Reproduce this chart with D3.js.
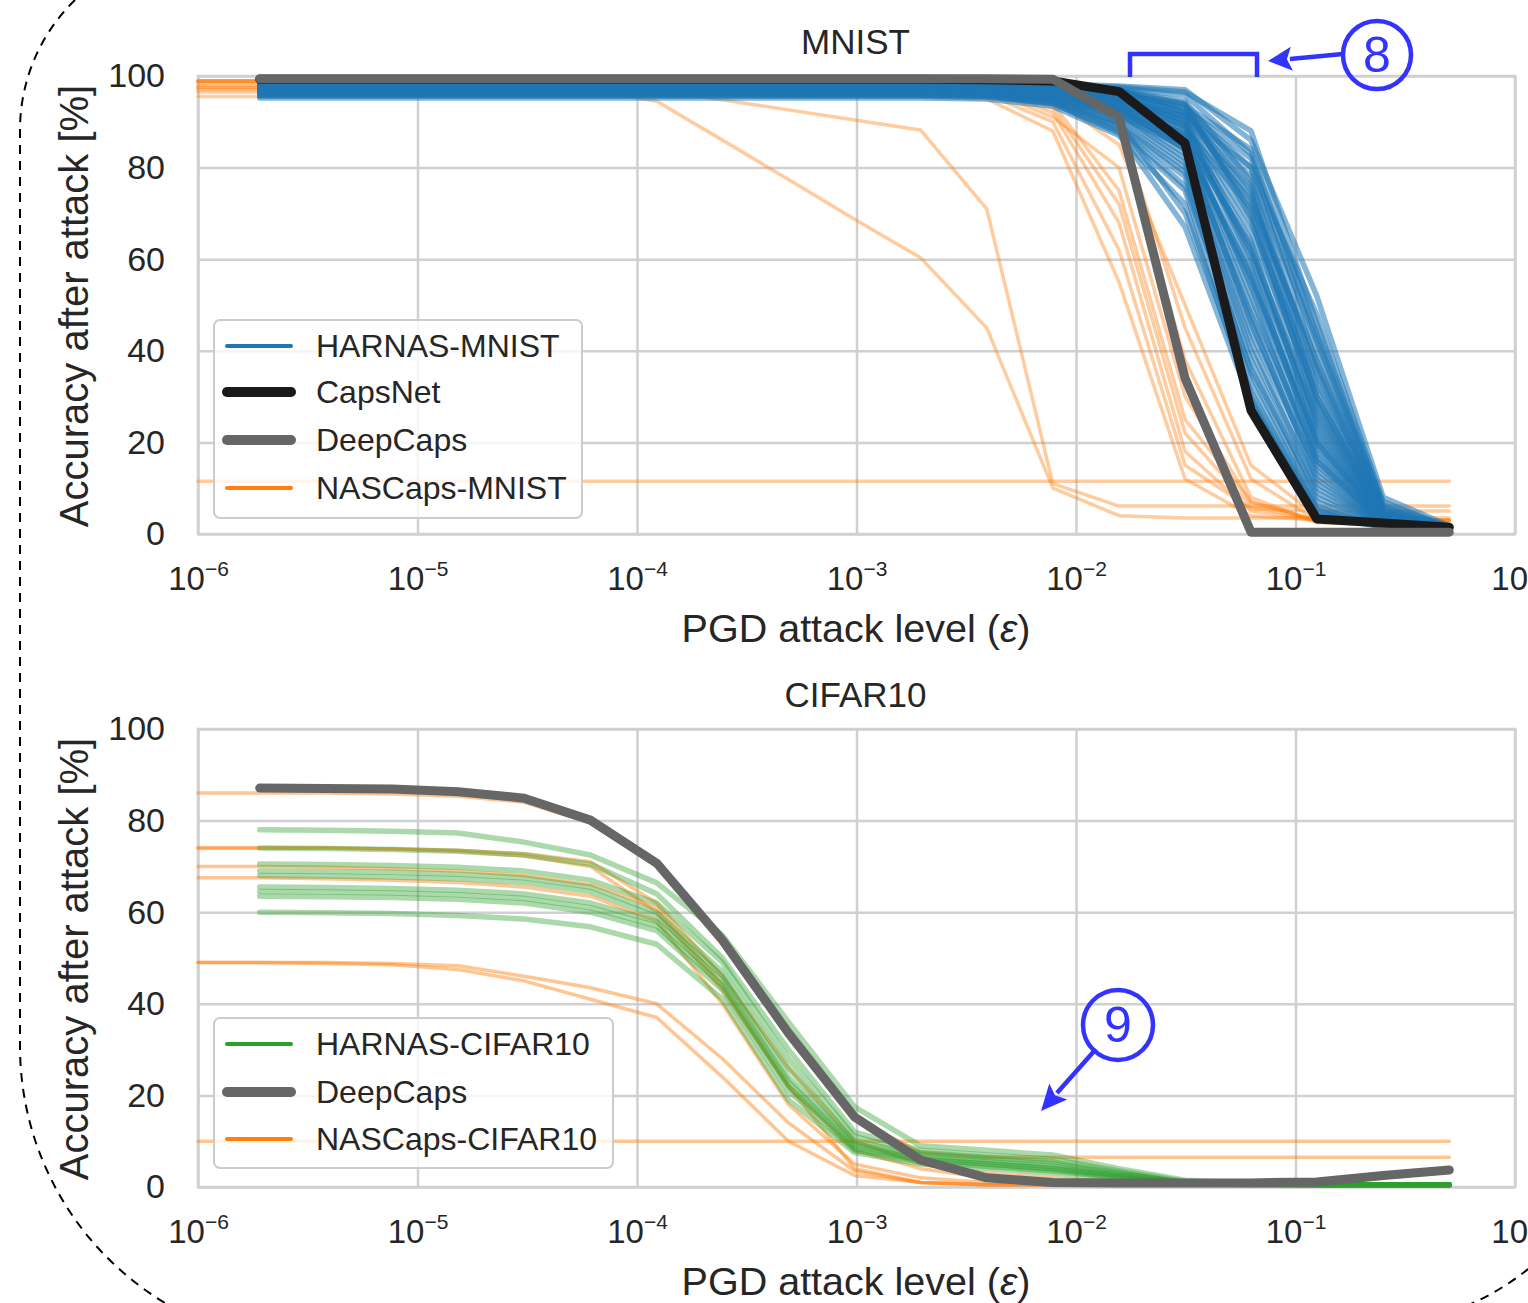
<!DOCTYPE html>
<html>
<head>
<meta charset="utf-8">
<script src="https://cdn.jsdelivr.net/npm/d3@7"></script>
<style>
  body { margin: 0; background: #fff; }
  text { font-family: "Liberation Sans", Arial, sans-serif; fill: #262626; }
</style>
</head>
<body>
<script>
// PGD epsilons (k/255 with k = 2^-11 ... 2^7)
const epsilons = [1.91e-6, 3.83e-6, 7.66e-6, 1.53e-5, 3.06e-5, 6.13e-5, 1.23e-4, 2.45e-4, 4.90e-4, 9.80e-4,
  1.96e-3, 3.92e-3, 7.84e-3, 1.57e-2, 3.14e-2, 6.27e-2, 1.25e-1, 2.51e-1, 5.02e-1];
// NASCaps runs have one extra point at 1e-6
const nasEpsilons = [1.0e-6, 1.91e-6, 3.83e-6, 7.66e-6, 1.53e-5, 3.06e-5, 6.13e-5, 1.23e-4, 2.45e-4, 4.90e-4, 9.80e-4,
  1.96e-3, 3.92e-3, 7.84e-3, 1.57e-2, 3.14e-2, 6.27e-2, 1.25e-1, 2.51e-1, 5.02e-1];

const xTicks = [1e-6, 1e-5, 1e-4, 1e-3, 1e-2, 1e-1, 1];
const xTickExp = ["\u22126", "\u22125", "\u22124", "\u22123", "\u22122", "\u22121", "0"];
const yTicks = [0, 20, 40, 60, 80, 100];

// ---------- MNIST ----------
const capsNetMnist = [99.3,99.3,99.3,99.3,99.3,99.3,99.3,99.3,99.3,99.3,99.3,99.2,98.9,96.6,85.3,27.0,3.3,2.4,1.5];
const deepCapsMnist = [99.4,99.4,99.4,99.4,99.4,99.4,99.4,99.4,99.4,99.4,99.4,99.4,99.3,91.0,34.0,0.4,0.4,0.4,0.4];

const harnasMnist = [
  [98.4,98.4,98.4,98.4,98.4,98.4,98.4,98.4,98.4,98.4,98.4,98.3,98.0,97.6,96.5,88.0,46.0,6.0,1.6],
  [98.2,98.2,98.2,98.2,98.2,98.2,98.2,98.2,98.2,98.2,98.2,98.1,97.6,96.4,93.0,82.0,40.0,5.0,1.3],
  [98.0,98.0,98.0,98.0,98.0,98.0,98.0,98.0,98.0,98.0,98.0,97.8,97.2,95.4,91.0,76.0,35.0,4.2,1.1],
  [98.3,98.3,98.3,98.3,98.3,98.3,98.3,98.3,98.3,98.3,98.3,98.2,97.8,96.8,94.0,70.0,28.0,3.6,1.1],
  [97.6,97.6,97.6,97.6,97.6,97.6,97.6,97.6,97.6,97.6,97.6,97.4,96.6,94.0,88.0,64.0,22.0,3.0,1.0],
  [98.1,98.1,98.1,98.1,98.1,98.1,98.1,98.1,98.1,98.1,98.1,97.9,97.3,95.6,90.0,58.0,18.0,2.6,1.0],
  [97.7,97.7,97.7,97.7,97.7,97.7,97.7,97.7,97.7,97.7,97.7,97.5,96.8,94.4,87.0,52.0,15.0,2.3,1.0],
  [97.2,97.2,97.2,97.2,97.2,97.2,97.2,97.2,97.2,97.2,97.2,97.0,96.2,93.0,84.0,47.0,12.0,2.0,0.9],
  [98.5,98.5,98.5,98.5,98.5,98.5,98.5,98.5,98.5,98.5,98.5,98.4,98.1,97.0,92.0,72.0,38.0,5.0,1.3],
  [98.0,98.0,98.0,98.0,98.0,98.0,98.0,98.0,98.0,98.0,98.0,97.8,97.1,95.0,89.0,60.0,25.0,3.5,1.1],
  [97.5,97.5,97.5,97.5,97.5,97.5,97.5,97.5,97.5,97.5,97.5,97.3,96.4,93.5,86.0,55.0,20.0,3.0,1.0],
  [96.9,96.9,96.9,96.9,96.9,96.9,96.9,96.9,96.9,96.9,96.9,96.7,95.6,91.5,82.0,42.0,10.0,2.0,0.9],
  [96.4,96.4,96.4,96.4,96.4,96.4,96.4,96.4,96.4,96.4,96.4,96.2,95.0,90.0,80.0,38.0,8.0,1.8,0.9],
  [98.6,98.6,98.6,98.6,98.6,98.6,98.6,98.6,98.6,98.6,98.6,98.5,98.3,97.8,97.0,86.0,52.0,8.0,1.8],
  [97.9,97.9,97.9,97.9,97.9,97.9,97.9,97.9,97.9,97.9,97.9,97.7,97.0,94.8,89.0,66.0,30.0,4.0,1.2],
  [97.4,97.4,97.4,97.4,97.4,97.4,97.4,97.4,97.4,97.4,97.4,97.2,96.2,92.5,85.0,50.0,17.0,2.5,1.0],
  [96.0,96.0,96.0,96.0,96.0,96.0,96.0,96.0,96.0,96.0,96.0,95.8,94.5,89.0,78.0,33.0,6.0,1.5,0.9],
  [98.2,98.2,98.2,98.2,98.2,98.2,98.2,98.2,98.2,98.2,98.2,98.0,97.5,96.0,92.0,78.0,42.0,5.5,1.4],
  [97.0,97.0,97.0,97.0,97.0,97.0,97.0,97.0,97.0,97.0,97.0,96.8,95.8,92.0,83.0,44.0,14.0,2.2,1.0],
  [95.6,95.6,95.6,95.6,95.6,95.6,95.6,95.6,95.6,95.6,95.6,95.4,94.0,88.0,75.0,30.0,5.0,1.5,0.9],
  [97.8,97.8,97.8,97.8,97.8,97.8,97.8,97.8,97.8,97.8,97.8,97.6,97.0,95.2,90.0,68.0,33.0,4.5,1.2],
  [97.6,97.6,97.6,97.6,97.6,97.6,97.6,97.6,97.6,97.6,97.6,97.4,96.6,94.0,87.0,62.0,26.0,3.5,1.1],
  [95.2,95.2,95.2,95.2,95.2,95.2,95.2,95.2,95.2,95.2,95.2,95.0,93.4,87.0,72.0,29.0,4.0,1.5,0.9],
  [98.4,98.4,98.4,98.4,98.4,98.4,98.4,98.4,98.4,98.4,98.4,98.3,98.0,96.5,93.0,80.0,48.0,7.0,1.5],
  [96.7,96.7,96.7,96.7,96.7,96.7,96.7,96.7,96.7,96.7,96.7,96.5,95.4,91.0,81.0,40.0,11.0,2.0,1.0],
  [98.0,98.0,98.0,98.0,98.0,98.0,98.0,98.0,98.0,98.0,98.0,97.8,97.2,95.5,91.0,74.0,36.0,4.5,1.2],
  [97.3,97.3,97.3,97.3,97.3,97.3,97.3,97.3,97.3,97.3,97.3,97.1,96.3,93.2,86.0,56.0,21.0,3.0,1.0],
  [96.2,96.2,96.2,96.2,96.2,96.2,96.2,96.2,96.2,96.2,96.2,96.0,94.8,89.5,79.0,35.0,7.0,1.6,0.9],
  [98.3,98.3,98.3,98.3,98.3,98.3,98.3,98.3,98.3,98.3,98.3,98.2,97.7,96.3,92.0,75.0,30.0,4.0,1.2],
  [97.1,97.1,97.1,97.1,97.1,97.1,97.1,97.1,97.1,97.1,97.1,96.9,96.0,92.8,84.0,48.0,16.0,2.4,1.0],
  [98.1,98.1,98.1,98.1,98.1,98.1,98.1,98.1,98.1,98.1,98.1,98.0,97.6,96.0,93.5,84.0,43.0,5.5,1.3],
  [97.8,97.8,97.8,97.8,97.8,97.8,97.8,97.8,97.8,97.8,97.8,97.6,97.0,95.0,91.5,80.0,37.0,4.5,1.2],
  [98.4,98.4,98.4,98.4,98.4,98.4,98.4,98.4,98.4,98.4,98.4,98.3,97.9,96.9,94.5,77.0,32.0,4.0,1.1],
  [97.5,97.5,97.5,97.5,97.5,97.5,97.5,97.5,97.5,97.5,97.5,97.3,96.5,93.8,88.5,71.0,27.0,3.5,1.0],
  [97.0,97.0,97.0,97.0,97.0,97.0,97.0,97.0,97.0,97.0,97.0,96.8,95.9,92.6,86.5,63.0,23.0,3.0,1.0],
  [96.6,96.6,96.6,96.6,96.6,96.6,96.6,96.6,96.6,96.6,96.6,96.4,95.2,91.2,84.5,57.0,19.0,2.6,1.0],
  [98.2,98.2,98.2,98.2,98.2,98.2,98.2,98.2,98.2,98.2,98.2,98.1,97.7,96.6,93.8,69.0,24.0,3.2,1.0],
  [97.9,97.9,97.9,97.9,97.9,97.9,97.9,97.9,97.9,97.9,97.9,97.7,97.1,95.3,90.5,61.0,20.0,2.8,1.0],
  [97.3,97.3,97.3,97.3,97.3,97.3,97.3,97.3,97.3,97.3,97.3,97.1,96.1,92.9,87.5,54.0,16.0,2.4,1.0],
  [96.8,96.8,96.8,96.8,96.8,96.8,96.8,96.8,96.8,96.8,96.8,96.6,95.5,91.8,85.5,46.0,13.0,2.1,0.9],
  [95.9,95.9,95.9,95.9,95.9,95.9,95.9,95.9,95.9,95.9,95.9,95.7,94.2,88.5,76.0,36.0,9.0,1.8,0.9],
  [96.3,96.3,96.3,96.3,96.3,96.3,96.3,96.3,96.3,96.3,96.3,96.1,94.7,89.8,70.0,31.0,5.5,1.6,0.9],
  [98.6,98.6,98.6,98.6,98.6,98.6,98.6,98.6,98.6,98.6,98.6,98.5,98.2,97.4,95.8,83.0,44.0,6.5,1.5],
  [97.7,97.7,97.7,97.7,97.7,97.7,97.7,97.7,97.7,97.7,97.7,97.5,96.9,94.6,89.5,73.0,29.0,3.8,1.1],
  [95.8,95.8,95.8,95.8,95.8,95.8,95.8,95.8,95.8,95.8,95.8,95.6,94.0,87.5,67.0,28.5,4.5,1.5,0.9]
];

const nasCapsMnist = [
  [11.5,11.5,11.5,11.5,11.5,11.5,11.5,11.5,11.5,11.5,11.5,11.5,11.5,11.5,11.5,11.5,11.5,11.5,11.5,11.5],
  [97.5,97.5,97.5,97.5,97.5,97.5,97.5,96.9,94.8,92.6,90.4,88.2,71.0,11.0,6.1,6.1,6.1,6.1,6.1,6.1],
  [97.0,97.0,97.0,97.0,97.0,97.0,97.0,94.5,86.0,77.4,68.7,60.3,45.0,10.0,4.0,3.5,3.5,3.5,3.5,3.5],
  [98.9,98.9,98.9,98.9,98.9,98.9,98.9,98.9,98.9,98.9,98.9,98.9,98.7,97.0,90.0,45.0,12.0,3.0,2.0,2.0],
  [98.9,98.9,98.9,98.9,98.9,98.9,98.9,98.9,98.9,98.9,98.9,98.9,98.6,96.0,88.0,38.0,8.0,2.5,2.0,2.0],
  [98.5,98.5,98.5,98.5,98.5,98.5,98.5,98.5,98.5,98.5,98.5,98.4,98.2,95.0,85.0,50.0,15.0,4.0,3.0,3.0],
  [98.9,98.9,98.9,98.9,98.9,98.9,98.9,98.9,98.9,98.9,98.9,98.9,98.5,93.0,72.0,22.0,6.0,3.0,2.5,2.5],
  [98.0,98.0,98.0,98.0,98.0,98.0,98.0,98.0,98.0,98.0,98.0,97.9,97.6,92.0,68.0,18.0,5.0,3.0,3.0,3.0],
  [96.5,96.5,96.5,96.5,96.5,96.5,96.5,96.5,96.5,96.5,96.5,96.4,96.0,90.0,62.0,15.0,5.5,5.0,5.0,5.0],
  [98.9,98.9,98.9,98.9,98.9,98.9,98.9,98.9,98.9,98.9,98.9,98.9,98.5,94.0,75.0,25.0,7.0,3.0,2.0,2.0],
  [95.5,95.5,95.5,95.5,95.5,95.5,95.5,95.5,95.5,95.5,95.5,95.4,95.0,88.0,55.0,12.0,4.0,3.0,3.0,3.0],
  [97.5,97.5,97.5,97.5,97.5,97.5,97.5,97.5,97.5,97.5,97.5,97.4,97.0,91.0,80.0,30.0,7.0,3.0,3.0,3.0]
];

// ---------- CIFAR10 ----------
const deepCapsCifar = [87.1,87.0,86.9,86.3,84.9,80.1,70.7,53.9,33.6,15.3,5.9,2.0,1.0,0.9,0.9,0.9,1.1,2.5,3.7];

const harnasCifar = [
  [78.0,77.9,77.7,77.3,75.3,72.5,66.4,55.0,36.0,17.5,9.0,8.0,7.0,4.0,1.5,0.8,0.6,0.5,0.5],
  [74.0,73.9,73.7,73.3,72.5,70.5,64.0,50.0,30.0,12.0,8.0,7.0,6.0,3.5,1.2,0.7,0.5,0.5,0.5],
  [70.5,70.4,70.2,69.8,69.0,67.0,62.0,49.0,28.0,11.0,7.5,6.5,5.5,3.0,1.0,0.6,0.5,0.5,0.5],
  [69.0,68.9,68.7,68.3,67.5,65.5,60.0,47.0,26.0,10.0,7.0,6.0,5.0,3.0,1.0,0.6,0.5,0.5,0.5],
  [68.0,67.9,67.7,67.3,66.5,64.5,59.0,46.0,24.0,9.5,6.5,5.5,4.5,2.5,1.0,0.6,0.5,0.5,0.5],
  [65.5,65.4,65.2,64.8,64.0,62.0,58.0,45.0,23.0,9.0,6.0,5.0,4.0,2.5,1.0,0.6,0.5,0.5,0.5],
  [64.5,64.4,64.2,63.8,63.0,61.0,57.0,44.0,22.0,8.5,6.0,5.0,4.0,2.0,0.9,0.6,0.5,0.5,0.5],
  [63.5,63.4,63.2,62.8,62.0,60.0,56.0,43.0,21.0,8.0,5.5,4.5,3.5,2.0,0.9,0.6,0.5,0.5,0.5],
  [60.0,59.9,59.7,59.3,58.5,56.8,53.0,41.0,19.0,7.5,5.0,4.0,3.0,1.8,0.8,0.5,0.5,0.5,0.5]
];

const nasCapsCifar = [
  [10.0,10.0,10.0,10.0,10.0,10.0,10.0,10.0,10.0,10.0,10.0,10.0,10.0,10.0,10.0,10.0,10.0,10.0,10.0,10.0],
  [86.0,86.0,86.0,85.8,85.3,84.0,79.5,70.0,53.0,33.0,15.0,7.5,6.5,6.5,6.5,6.5,6.5,6.5,6.5,6.5],
  [74.0,74.0,74.0,73.8,73.5,72.8,71.0,62.0,46.0,26.0,10.0,5.0,3.0,2.0,1.0,0.5,0.5,0.5,0.5,0.5],
  [74.0,74.0,74.0,73.8,73.3,72.3,70.0,60.0,43.0,22.0,8.0,4.0,2.0,1.0,0.5,0.5,0.5,0.5,0.5,0.5],
  [70.0,70.0,69.8,69.5,69.0,68.0,66.0,61.0,44.0,22.0,4.0,1.0,0.5,0.5,0.5,0.5,0.5,0.5,0.5,0.5],
  [67.5,67.5,67.3,67.0,66.5,65.5,63.5,58.0,40.0,18.0,5.0,2.0,1.0,0.5,0.5,0.5,0.5,0.5,0.5,0.5],
  [49.0,49.0,49.0,48.8,48.3,46.0,43.5,40.0,28.0,14.0,3.5,1.0,0.5,0.5,0.5,0.5,0.5,0.5,0.5,0.5],
  [49.0,49.0,48.8,48.5,47.5,45.0,41.0,37.0,24.0,10.0,2.5,1.0,0.5,0.5,0.5,0.5,0.5,0.5,0.5,0.5]
];

const BLUE = "#1f77b4", ORANGE = "#ff7f0e", GREEN = "#2ca02c", BLACK = "#1a1a1a", GRAY = "#666666";
const ANNO = "#3333ff";

const W = 1528, H = 1303;
const svg = d3.select("body").append("svg").attr("width", W).attr("height", H);

const panels = [
  {
    title: "MNIST", top: 76, bottom: 534,
    series: [
      { rows: nasCapsMnist, eps: nasEpsilons, color: ORANGE, width: 3.5, alpha: 0.4 },
      { rows: harnasMnist, eps: epsilons, color: BLUE, width: 5.5, alpha: 0.55 },
      { rows: [capsNetMnist], eps: epsilons, color: BLACK, width: 9, alpha: 1 },
      { rows: [deepCapsMnist], eps: epsilons, color: GRAY, width: 9, alpha: 1 }
    ],
    legend: { x: 214, y: 320, w: 368, h: 198, rowY: [346, 392, 440, 488],
      items: [
        { label: "HARNAS-MNIST", color: BLUE, width: 4 },
        { label: "CapsNet", color: BLACK, width: 10 },
        { label: "DeepCaps", color: GRAY, width: 10 },
        { label: "NASCaps-MNIST", color: ORANGE, width: 4 }
      ] }
  },
  {
    title: "CIFAR10", top: 729, bottom: 1187,
    series: [
      { rows: nasCapsCifar, eps: nasEpsilons, color: ORANGE, width: 3.5, alpha: 0.45 },
      { rows: harnasCifar, eps: epsilons, color: GREEN, width: 5.5, alpha: 0.4 },
      { rows: [deepCapsCifar], eps: epsilons, color: GRAY, width: 9, alpha: 1 }
    ],
    legend: { x: 214, y: 1018, w: 399, h: 150, rowY: [1044, 1092, 1139],
      items: [
        { label: "HARNAS-CIFAR10", color: GREEN, width: 4 },
        { label: "DeepCaps", color: GRAY, width: 10 },
        { label: "NASCaps-CIFAR10", color: ORANGE, width: 4 }
      ] }
  }
];

const left = 198, right = 1515;

panels.forEach(p => {
  const x = d3.scaleLog().domain([1e-6, 1]).range([left, right]);
  const y = d3.scaleLinear().domain([0, 100]).range([p.bottom, p.top]);
  const g = svg.append("g");

  // x grid + tick labels
  const xa = g.append("g").attr("transform", `translate(0,${p.bottom})`)
    .call(d3.axisBottom(x).tickValues(xTicks).tickSize(-(p.bottom - p.top)).tickFormat(() => ""));
  xa.select(".domain").remove();
  xa.selectAll(".tick line").attr("stroke", "#d0d0d0").attr("stroke-width", 2.5);
  xa.selectAll(".tick text").each(function(d, i) {
    const t = d3.select(this).attr("y", 56).attr("dy", null)
      .attr("font-family", "DejaVu Sans, sans-serif").attr("font-size", 33).attr("fill", "#262626")
      .attr("text-anchor", "middle");
    t.text(null);
    t.append("tspan").text("10");
    t.append("tspan").attr("font-size", 21).attr("dy", -14).text(xTickExp[i]);
  });

  // y grid + tick labels
  const ya = g.append("g").attr("transform", `translate(${left},0)`)
    .call(d3.axisLeft(y).tickValues(yTicks).tickSize(-(right - left)).tickPadding(33));
  ya.select(".domain").remove();
  ya.selectAll(".tick line").attr("stroke", "#d0d0d0").attr("stroke-width", 2.5);
  ya.selectAll(".tick text").attr("font-size", 34).attr("fill", "#262626")
    .attr("font-family", "Liberation Sans, Arial, sans-serif").attr("x", -33);

  // frame
  g.append("rect").attr("x", left).attr("y", p.top).attr("width", right - left).attr("height", p.bottom - p.top)
    .attr("fill", "none").attr("stroke", "#d0d0d0").attr("stroke-width", 2.5);

  // series
  p.series.forEach(s => {
    const line = d3.line().x((d, i) => x(s.eps[i])).y(d => y(d));
    g.append("g").selectAll("path").data(s.rows).join("path")
      .attr("d", line)
      .attr("fill", "none")
      .attr("stroke", s.color)
      .attr("stroke-opacity", s.alpha)
      .attr("stroke-width", s.width)
      .attr("stroke-linejoin", "round")
      .attr("stroke-linecap", "round");
  });

  // title and axis labels
  g.append("text").attr("x", (left + right) / 2 - 1).attr("y", p.top - 22)
    .attr("text-anchor", "middle").attr("font-size", 35).text(p.title);
  const xl = g.append("text").attr("x", 856).attr("y", p.bottom + 108)
    .attr("text-anchor", "middle").attr("font-size", 39.5);
  xl.append("tspan").text("PGD attack level (");
  xl.append("tspan").attr("font-style", "italic").text("\u03b5");
  xl.append("tspan").text(")");
  g.append("text").attr("transform", `translate(88,${(p.top + p.bottom) / 2 + 1}) rotate(-90)`)
    .attr("text-anchor", "middle").attr("font-size", 40).text("Accuracy after attack [%]");

  // legend
  const L = p.legend;
  const lg = g.append("g");
  lg.append("rect").attr("x", L.x).attr("y", L.y).attr("width", L.w).attr("height", L.h)
    .attr("rx", 6).attr("fill", "#fff").attr("fill-opacity", 0.8)
    .attr("stroke", "#cccccc").attr("stroke-width", 2);
  L.items.forEach((it, i) => {
    lg.append("line").attr("x1", 227).attr("x2", 291).attr("y1", L.rowY[i]).attr("y2", L.rowY[i])
      .attr("stroke", it.color).attr("stroke-width", it.width).attr("stroke-linecap", "round");
    lg.append("text").attr("x", 316).attr("y", L.rowY[i] + 11).attr("font-size", 32).text(it.label);
  });
});

// annotations
function arrow(x1, y1, x2, y2, len, half) {
  const dx = x2 - x1, dy = y2 - y1, d = Math.hypot(dx, dy);
  const ux = dx / d, uy = dy / d;
  const bx = x2 - ux * len, by = y2 - uy * len;
  svg.append("line").attr("x1", x1).attr("y1", y1).attr("x2", bx + ux * 2).attr("y2", by + uy * 2)
    .attr("stroke", ANNO).attr("stroke-width", 4.5);
  svg.append("path")
    .attr("d", `M${x2},${y2} L${bx - uy * half},${by + ux * half} L${bx + ux * 5},${by + uy * 5} L${bx + uy * half},${by - ux * half} Z`)
    .attr("fill", ANNO);
}
function badge(cx, cy, r, label) {
  svg.append("circle").attr("cx", cx).attr("cy", cy).attr("r", r)
    .attr("fill", "none").attr("stroke", ANNO).attr("stroke-width", 4.5);
  svg.append("text").attr("x", cx).attr("y", cy + 17).attr("text-anchor", "middle")
    .attr("font-size", 50).style("fill", ANNO).text(label);
}
svg.append("path").attr("d", "M1130,77 L1130,54 L1257,54 L1257,77")
  .attr("fill", "none").attr("stroke", ANNO).attr("stroke-width", 4.5);
arrow(1343, 54, 1268, 61, 24, 12);
badge(1377, 55, 34, "8");
arrow(1096, 1049, 1041, 1111, 26, 12);
badge(1118, 1025, 35, "9");

// dashed frame
svg.append("path")
  .attr("d", "M75,0 A181,181 0 0 0 20,130 L20,1046 A300,300 0 0 0 165,1303")
  .attr("fill", "none").attr("stroke", "#000").attr("stroke-width", 2).attr("stroke-dasharray", "9,7");
svg.append("path")
  .attr("d", "M1466,1306 Q1500,1292 1532,1266")
  .attr("fill", "none").attr("stroke", "#000").attr("stroke-width", 2).attr("stroke-dasharray", "9,7");
</script>
</body>
</html>
